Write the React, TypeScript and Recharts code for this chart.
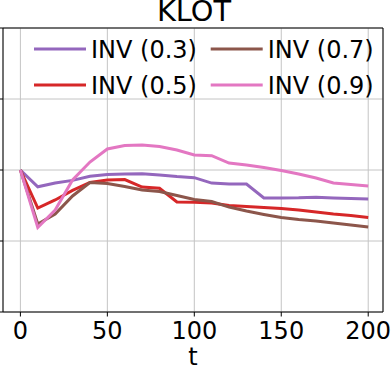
import React from "react";
import {
  LineChart,
  Line,
  XAxis,
  YAxis,
  CartesianGrid,
  Legend,
  ReferenceLine,
} from "recharts";

const FONT = "'DejaVu Sans', sans-serif";

const steps = [0, 10, 20, 30, 40, 50, 60, 70, 80, 90, 100, 110, 120, 130, 140, 150, 160, 170, 180, 190, 200];
const inv03 = [1.0, 0.882, 0.908, 0.927, 0.956, 0.968, 0.972, 0.973, 0.965, 0.954, 0.946, 0.908, 0.901, 0.901, 0.803, 0.803, 0.804, 0.808, 0.803, 0.799, 0.796];
const inv05 = [1.0, 0.732, 0.789, 0.856, 0.912, 0.93, 0.933, 0.88, 0.871, 0.775, 0.773, 0.768, 0.75, 0.743, 0.736, 0.729, 0.718, 0.704, 0.69, 0.68, 0.665];
const inv07 = [1.0, 0.62, 0.69, 0.817, 0.912, 0.905, 0.884, 0.859, 0.849, 0.82, 0.792, 0.778, 0.739, 0.711, 0.687, 0.665, 0.651, 0.641, 0.627, 0.613, 0.599];
const inv09 = [1.0, 0.595, 0.718, 0.93, 1.056, 1.148, 1.173, 1.176, 1.165, 1.141, 1.106, 1.101, 1.049, 1.035, 1.018, 0.996, 0.972, 0.944, 0.908, 0.898, 0.887];

const xTicks = [0, 50, 100, 150, 200];
const yTicks = [0, 0.5, 1, 1.5, 2];

const series = [
  { key: "inv03", name: "INV (0.3)", color: "#9467bd" },
  { key: "inv05", name: "INV (0.5)", color: "#d62728" },
  { key: "inv07", name: "INV (0.7)", color: "#8c564b" },
  { key: "inv09", name: "INV (0.9)", color: "#e377c2" },
];

const data = steps.map((t, i) => ({
  t,
  inv03: inv03[i],
  inv05: inv05[i],
  inv07: inv07[i],
  inv09: inv09[i],
}));

// y labels are cropped off in the original, keep only the tick marks
const NoLabel = () => <g />;

// two columns, filled column by column like matplotlib's ncol=2
function LegendBox() {
  const cols = [34, 210.7];
  const rows = [49, 85];
  return (
    <svg width={391} height={100} style={{ display: "block" }}>
      {series.map((s, i) => {
        const x = cols[Math.floor(i / 2)];
        const y = rows[i % 2];
        return (
          <g key={s.key}>
            <line x1={x} x2={x + 52} y1={y} y2={y} stroke={s.color} strokeWidth={3} />
            <text x={x + 57} y={y + 9.3} fontFamily={FONT} fontSize={24} fill="#000">
              {s.name}
            </text>
          </g>
        );
      })}
    </svg>
  );
}

export default function App() {
  return (
    <div style={{ position: "absolute", left: 0, top: 0, width: 391, height: 366, background: "#fff" }}>
      <LineChart
        width={391}
        height={366}
        data={data}
        margin={{ top: 28, right: 8, bottom: 0, left: 0 }}
      >
        <CartesianGrid stroke="#c4c4c4" strokeWidth={1} />
        <XAxis
          dataKey="t"
          type="number"
          domain={[-10, 208.5]}
          ticks={xTicks}
          allowDataOverflow
          height={54}
          tickSize={4.5}
          tickMargin={5}
          stroke="#000"
          tick={{ fontSize: 24, fill: "#000", fontFamily: FONT }}
          label={{ value: "t", position: "insideBottom", offset: 1.5, fontSize: 24, fill: "#000", fontFamily: FONT }}
        />
        <YAxis
          type="number"
          domain={[0, 2]}
          ticks={yTicks}
          width={3}
          tickSize={3.5}
          tick={NoLabel}
          stroke="#000"
        />
        <ReferenceLine y={2} stroke="#000" strokeWidth={1} />
        <ReferenceLine x={208.5} stroke="#000" strokeWidth={1} />
        {series.map((s) => (
          <Line
            key={s.key}
            type="linear"
            dataKey={s.key}
            name={s.name}
            stroke={s.color}
            strokeWidth={3}
            dot={false}
            activeDot={false}
            isAnimationActive={false}
          />
        ))}
        <Legend
          layout="horizontal"
          verticalAlign="middle"
          align="center"
          wrapperStyle={{ left: 0, top: 0, width: 391, height: 100 }}
          content={() => <LegendBox />}
        />
      </LineChart>
      <svg
        width={391}
        height={30}
        style={{ position: "absolute", left: 0, top: 0, pointerEvents: "none" }}
      >
        <text x={194} y={21.3} textAnchor="middle" fontFamily={FONT} fontSize={28.8} fill="#000">
          KLOT
        </text>
      </svg>
    </div>
  );
}
